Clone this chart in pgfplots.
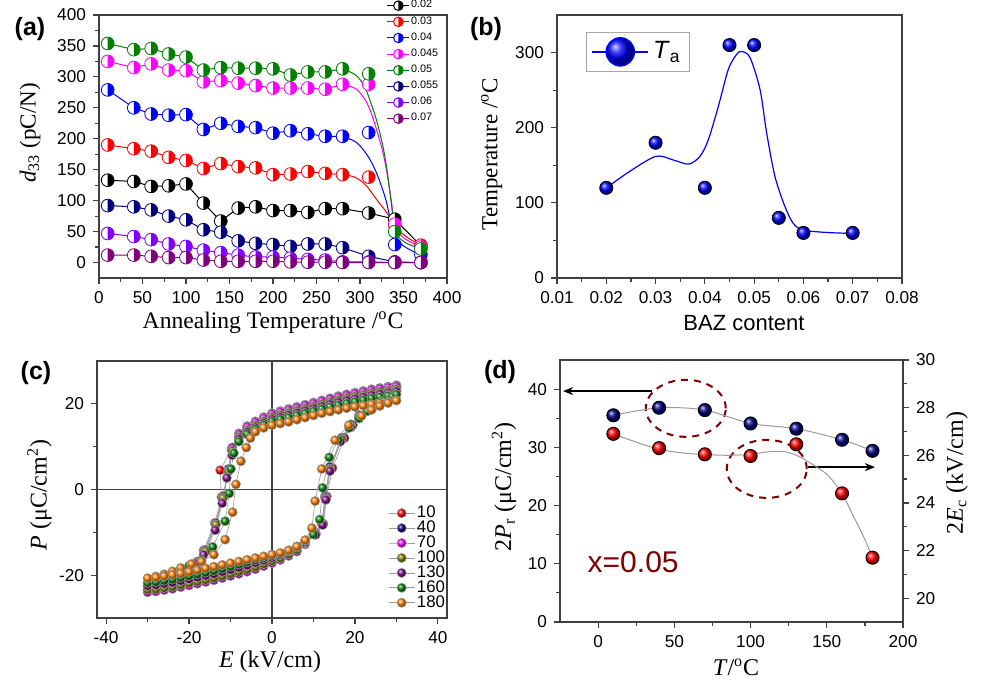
\documentclass[border=0pt]{standalone}
\usepackage{fontspec}
\setmainfont{Liberation Sans}
\newfontfamily\serif{Liberation Serif}
\usepackage{pgfplots}
\pgfplotsset{compat=1.18}
\usetikzlibrary{plotmarks,arrows.meta}
\definecolor{dred}{HTML}{800000}
\definecolor{axgray}{HTML}{404040}
\definecolor{cgreen}{HTML}{008000}
\definecolor{cnavy}{HTML}{000080}
\definecolor{cviolet}{HTML}{8000FF}
\definecolor{cpurple}{HTML}{800080}
\definecolor{colive}{HTML}{808000}
\definecolor{corange}{HTML}{FF8000}
\definecolor{cmag}{HTML}{FF00FF}
\definecolor{cred}{HTML}{FF0000}
\definecolor{cblue}{HTML}{0000FF}
\definecolor{cline}{HTML}{999999}

% circle with the left half white and the right half in the plot colour
\pgfdeclareplotmark{halfR}{%
  \pgfpathcircle{\pgfpointorigin}{\pgfplotmarksize}%
  \pgfusepathqfill
  \begin{pgfscope}%
  \pgfsetfillcolor{.}%
  \pgfpathmoveto{\pgfqpoint{0pt}{\pgfplotmarksize}}%
  \pgfpatharc{90}{-90}{\pgfplotmarksize}%
  \pgfpathclose
  \pgfusepathqfill
  \end{pgfscope}%
  \pgfpathcircle{\pgfpointorigin}{\pgfplotmarksize}%
  \pgfusepathqstroke
}

\pgfplotsset{
  panel/.style={
    scale only axis,
    anchor=south west,
    axis line style={axgray, line width=0.7pt},
    tick style={axgray, line width=0.6pt},
    tick align=outside,
    major tick length=3pt,
    minor tick length=1.8pt,
    xtick pos=bottom, ytick pos=left,
    tick label style={font=\fontsize{8.6}{10}\selectfont},
    /pgf/number format/assume math mode=true,
  },
  hc/.style={color=#1, line width=0.5pt, mark=halfR, mark size=3.2pt,
    mark options={solid, draw=#1, fill=white}},
  hs/.style={color=#1, line width=0.5pt, forget plot},
  hl/.style={color=#1, line width=0.5pt, smooth, forget plot},
  hm/.style={color=#1, only marks, mark=halfR, mark size=3.2pt,
    mark options={solid, draw=#1, fill=white}, forget plot},
  loop/.style={cline, line width=0.3pt, mark=ball, mark size=2.3pt,
    mark options={ball color=#1}},
}

\begin{document}
\begin{tikzpicture}
\useasboundingbox (0pt,0pt) rectangle (492pt,340pt);

% ---------------- (a) ----------------
\begin{axis}[panel, at={(49.5pt,201pt)}, width=174pt, height=131.5pt,
  xmin=0, xmax=400, ymin=-25, ymax=400,
  xtick={0,50,...,400}, ytick={0,50,...,400},
  minor x tick num=1, minor y tick num=1,
  legend style={at={(0.978,1.06)}, anchor=north east, draw=none, fill=none,
    inner sep=0pt, outer sep=0pt,
    font=\fontsize{5.4}{6}\selectfont, row sep=1.6pt,
    nodes={inner sep=0.6pt}},
  legend cell align=left,
  legend image code/.code={\draw[mark repeat=2,mark phase=2] plot coordinates {(0pt,0pt) (5.5pt,0pt) (11pt,0pt)};},
]
% 0.02
\addplot[hs=black] coordinates {(10,133)(40,131)(60,123)(80,124)(100,127)(120,96)(140,67)(160,88)(180,90)(200,84)(220,84)(240,81)(260,87)(280,87)(310,80)(340,70)(370,27)};
\addplot[hm=black] coordinates {(10,133)(40,131)(60,123)(80,124)(100,127)(120,96)(140,67)(160,88)(180,90)(200,84)(220,84)(240,81)(260,87)(280,87)(310,80)(340,70)(370,27)};
% 0.03
\addplot[hs=cred] coordinates {(10,190)(40,184)(60,180)(80,170)(100,165)(120,152)(140,160)(160,155)(180,153)(200,142)(220,143)(240,147)(260,144)(280,142)};
\addplot[hl=cred] coordinates {(280,142)(292,139)(300,133)(308,123)(319,102)(331,80)(340,58)(355,40)(370,28)};
\addplot[hm=cred] coordinates {(10,190)(40,184)(60,180)(80,170)(100,165)(120,152)(140,160)(160,155)(180,153)(200,142)(220,143)(240,147)(260,144)(280,142)(310,138)(340,60)(370,28)};
% 0.04
\addplot[hs=cblue] coordinates {(10,279)(40,250)(60,240)(80,238)(100,239)(120,215)(140,225)(160,220)(180,218)(200,209)(220,213)(240,208)(260,204)(280,204)};
\addplot[hl=cblue] coordinates {(280,204)(295,195)(305,180)(312,165)(318,148)(323,130)(330,100)(336,64)(346,32)(361,18)(370,13)};
\addplot[hm=cblue] coordinates {(10,279)(40,250)(60,240)(80,238)(100,239)(120,215)(140,225)(160,220)(180,218)(200,209)(220,213)(240,208)(260,204)(280,204)(310,210)(340,29)(370,13)};
% 0.045
\addplot[hs=cmag] coordinates {(10,325)(40,315)(60,321)(80,311)(100,310)(120,292)(140,294)(160,290)(180,286)(200,282)(220,282)(240,282)(260,280)(280,288)};
\addplot[hl=cmag] coordinates {(280,288)(295,281)(305,265)(312,245)(319,215)(326,180)(331,145)(336,100)(340,62)(350,40)(370,25)};
\addplot[hm=cmag] coordinates {(10,325)(40,315)(60,321)(80,311)(100,310)(120,292)(140,294)(160,290)(180,286)(200,282)(220,282)(240,282)(260,280)(280,288)(310,288)(340,62)(370,25)};
% 0.05
\addplot[hs=cgreen] coordinates {(10,354)(40,344)(60,346)(80,337)(100,332)(120,311)(140,315)(160,314)(180,314)(200,313)(220,303)(240,308)(260,308)(280,313)};
\addplot[hl=cgreen] coordinates {(280,313)(295,303)(305,285)(312,260)(319,230)(326,190)(331,150)(336,95)(340,52)(345,40)(355,30)(370,22)};
\addplot[hm=cgreen] coordinates {(10,354)(40,344)(60,346)(80,337)(100,332)(120,311)(140,315)(160,314)(180,314)(200,313)(220,303)(240,308)(260,308)(280,313)(310,305)(340,50)(370,22)};
% 0.055
\addplot[hs=cnavy] coordinates {(10,92)(40,90)(60,85)(80,75)(100,69)(120,53)(140,49)(160,35)(180,31)(200,29)(220,26)(240,30)(260,30)(280,24)(310,10)(340,1)(370,0)};
\addplot[hm=cnavy] coordinates {(10,92)(40,90)(60,85)(80,75)(100,69)(120,53)(140,49)(160,35)(180,31)(200,29)(220,26)(240,30)(260,30)(280,24)(310,10)(340,1)(370,0)};
% 0.06
\addplot[hs=cviolet] coordinates {(10,47)(40,42)(60,37)(80,30)(100,26)(120,20)(140,16)(160,12)(180,9)(200,9)(220,7)(240,5)(260,4)(280,1)(310,1)(340,0)(370,0)};
\addplot[hm=cviolet] coordinates {(10,47)(40,42)(60,37)(80,30)(100,26)(120,20)(140,16)(160,12)(180,9)(200,9)(220,7)(240,5)(260,4)(280,1)(310,1)(340,0)(370,0)};
% 0.07
\addplot[hs=cpurple] coordinates {(10,12)(40,12)(60,10)(80,8)(100,8)(120,4)(140,2)(160,2)(180,2)(200,2)(220,1)(240,0.5)(260,0.5)(280,0)(310,0)(340,0)(370,0)};
\addplot[hm=cpurple] coordinates {(10,12)(40,12)(60,10)(80,8)(100,8)(120,4)(140,2)(160,2)(180,2)(200,2)(220,1)(240,0.5)(260,0.5)(280,0)(310,0)(340,0)(370,0)};
\addlegendimage{hc=black, mark size=2.4pt}\addlegendentry{0.02}
\addlegendimage{hc=cred, mark size=2.4pt}\addlegendentry{0.03}
\addlegendimage{hc=cblue, mark size=2.4pt}\addlegendentry{0.04}
\addlegendimage{hc=cmag, mark size=2.4pt}\addlegendentry{0.045}
\addlegendimage{hc=cgreen, mark size=2.4pt}\addlegendentry{0.05}
\addlegendimage{hc=cnavy, mark size=2.4pt}\addlegendentry{0.055}
\addlegendimage{hc=cviolet, mark size=2.4pt}\addlegendentry{0.06}
\addlegendimage{hc=cpurple, mark size=2.4pt}\addlegendentry{0.07}
\end{axis}

% ---------------- (b) ----------------
\begin{axis}[panel, at={(278.5pt,201pt)}, width=172.5pt, height=131.5pt,
  xmin=0.01, xmax=0.08, ymin=0, ymax=350,
  xtick={0.01,0.02,0.03,0.04,0.05,0.06,0.07,0.08}, ytick={0,100,200,300},
  minor x tick num=1, minor y tick num=1,
  scaled x ticks=false,
  x tick label style={/pgf/number format/fixed, /pgf/number format/fixed zerofill, /pgf/number format/precision=2},
  legend style={at={(0.084,0.937)}, anchor=north west, draw=gray!70, line width=0.5pt,
    font=\fontsize{12.5}{14}\selectfont, inner sep=2.5pt},
]
\addplot[cblue, line width=0.6pt, smooth, forget plot] coordinates {(0.02,119.5)(0.0242,139.5)(0.03,161.8)(0.0336,157)(0.0367,151.6)(0.039,161.8)(0.0407,184)(0.04275,228.7)(0.04477,277.8)(0.04646,297.8)(0.04748,301.4)(0.04916,293.4)(0.05119,251)(0.05254,193)(0.05423,135)(0.05625,95)(0.05794,72.7)(0.05997,63.8)(0.06469,60.6)(0.07,59.3)};
\addplot[only marks, mark=ball, mark size=3.3pt, mark options={ball color=cblue}, forget plot] coordinates {(0.02,120)(0.03,180)(0.04,120)(0.045,310)(0.05,310)(0.055,80)(0.06,60)(0.07,60)};
\addlegendimage{cblue, line width=0.8pt, legend image code/.code={\draw (0pt,0pt)--(28pt,0pt); \shade[ball color=cblue] (14pt,0pt) circle (7pt);}}
\addlegendentry{\textit{T}\textsubscript{a}}
\end{axis}

% ---------------- (c) ----------------
\begin{axis}[panel, at={(48.5pt,31pt)}, width=175pt, height=128.5pt,
  xmin=-42.2, xmax=42.2, ymin=-30, ymax=30,
  xtick={-40,-20,0,20,40}, ytick={-20,0,20},
  minor x tick num=1, minor y tick num=1,
  legend style={at={(1.0,0.023)}, anchor=south east, draw=none, fill=none,
    inner sep=0pt, outer sep=0pt,
    font=\fontsize{8.4}{9}\selectfont, row sep=-1.9pt, nodes={inner sep=1pt}},
  legend cell align=left,
  legend image code/.code={\draw[mark repeat=2,mark phase=2] plot coordinates {(0pt,0pt) (6.5pt,0pt) (13pt,0pt)};},
]
\draw[axgray, line width=0.7pt] (axis cs:0,-30) -- (axis cs:0,30);
\draw[axgray, line width=0.7pt] (axis cs:-42.2,0) -- (axis cs:42.2,0);
\addplot[loop=cred] coordinates {(30,23.9)(28,23.6)(26,23.3)(24,23.0)(22,22.6)(20,22.2)(18,21.8)(16,21.4)(14,20.9)(12,20.4)(10,19.9)(8,19.4)(6,18.9)(4,18.4)(2,17.9)(0,17.4)(-2,16.5)(-4,15.5)(-6,14.4)(-8,12.7)(-9.8,9.3)(-12.5,4.5)(-12.2,-1.8)(-13.8,-7.8)(-16.5,-14.2)(-18.2,-17.0)(-20,-18.5)(-22,-19.8)(-24,-21.0)(-26,-22.0)(-28,-22.9)(-30,-23.6)(-28,-23.3)(-26,-23.0)(-24,-22.7)(-22,-22.3)(-20,-21.9)(-18,-21.5)(-16,-21.1)(-14,-20.7)(-12,-20.2)(-10,-19.7)(-8,-19.2)(-6,-18.7)(-4,-18.1)(-2,-17.5)(0,-16.9)(2,-16.4)(4,-15.4)(6,-14.3)(8,-12.6)(10.6,-10.3)(12.4,-8.0)(13.2,-1.6)(14.6,5.0)(17.5,12.0)(19.5,15.0)(21.3,17.2)(23,19.0)(25,20.6)(27,22.0)(29,23.2)(30,23.9)};
\addlegendentry{10}
\addplot[loop=cnavy] coordinates {(30,24.3)(28,24.0)(26,23.7)(24,23.4)(22,23.0)(20,22.6)(18,22.2)(16,21.8)(14,21.3)(12,20.8)(10,20.3)(8,19.8)(6,19.3)(4,18.8)(2,18.3)(0,17.8)(-2,16.9)(-4,15.9)(-6,14.8)(-8,13.1)(-9.6,9.8)(-10.5,4.8)(-11.8,-1.5)(-13.6,-7.8)(-16.2,-14.1)(-18,-16.8)(-20,-18.3)(-22,-19.6)(-24,-20.8)(-26,-21.8)(-28,-22.6)(-30,-23.2)(-28,-22.9)(-26,-22.6)(-24,-22.3)(-22,-21.9)(-20,-21.5)(-18,-21.1)(-16,-20.7)(-14,-20.3)(-12,-19.8)(-10,-19.3)(-8,-18.8)(-6,-18.3)(-4,-17.7)(-2,-17.0)(0,-16.4)(2,-15.7)(4,-14.8)(6,-13.8)(8,-12.2)(10.3,-10.1)(12,-7.8)(12.8,-1.5)(13.9,5.3)(16.8,12.1)(19,15.2)(21,17.4)(23,19.2)(25,20.9)(27,22.3)(29,23.6)(30,24.3)};
\addlegendentry{40}
\addplot[loop=cmag] coordinates {(30,24.1)(28,23.8)(26,23.5)(24,23.2)(22,22.8)(20,22.4)(18,22.0)(16,21.6)(14,21.1)(12,20.6)(10,20.1)(8,19.6)(6,19.1)(4,18.6)(2,18.1)(0,17.6)(-2,16.7)(-4,15.7)(-6,14.6)(-8,12.9)(-9.7,9.5)(-10.6,4.3)(-11.9,-1.8)(-13.7,-8.1)(-16.3,-14.4)(-18,-17.1)(-20,-18.7)(-22,-20.0)(-24,-21.2)(-26,-22.3)(-28,-23.2)(-30,-24.0)(-28,-23.8)(-26,-23.5)(-24,-23.2)(-22,-22.8)(-20,-22.4)(-18,-22.0)(-16,-21.6)(-14,-21.2)(-12,-20.7)(-10,-20.2)(-8,-19.7)(-6,-19.2)(-4,-18.6)(-2,-17.9)(0,-17.2)(2,-16.4)(4,-15.5)(6,-14.5)(8,-12.8)(10.4,-10.4)(12.1,-8.1)(12.9,-1.8)(14,4.9)(16.9,11.8)(19,14.9)(21,17.1)(23,18.9)(25,20.6)(27,22.0)(29,23.3)(30,24.1)};
\addlegendentry{70}
\addplot[loop=colive] coordinates {(30,23.4)(28,23.1)(26,22.8)(24,22.5)(22,22.1)(20,21.7)(18,21.3)(16,20.9)(14,20.4)(12,19.9)(10,19.4)(8,18.9)(6,18.4)(4,17.9)(2,17.4)(0,16.9)(-2,16.0)(-4,15.0)(-6,13.9)(-8,12.3)(-9.6,9.0)(-10.5,4.2)(-11.8,-2.0)(-13.5,-8.2)(-16,-14.4)(-18,-17.0)(-20,-18.3)(-22,-19.5)(-24,-20.6)(-26,-21.6)(-28,-22.5)(-30,-23.4)(-28,-23.3)(-26,-23.0)(-24,-22.7)(-22,-22.3)(-20,-21.9)(-18,-21.5)(-16,-21.1)(-14,-20.7)(-12,-20.2)(-10,-19.7)(-8,-19.2)(-6,-18.7)(-4,-18.1)(-2,-17.4)(0,-16.7)(2,-16.0)(4,-15.1)(6,-14.1)(8,-12.5)(10.3,-10.3)(12,-8.0)(12.8,-2.0)(13.9,4.8)(16.8,11.7)(19,14.7)(21,16.9)(23,18.6)(25,20.2)(27,21.6)(29,22.8)(30,23.4)};
\addlegendentry{100}
\addplot[loop=cpurple] coordinates {(30,22.9)(28,22.6)(26,22.3)(24,22.0)(22,21.6)(20,21.2)(18,20.8)(16,20.4)(14,19.9)(12,19.4)(10,18.9)(8,18.4)(6,17.9)(4,17.4)(2,16.9)(0,16.4)(-2,15.5)(-4,14.5)(-6,13.4)(-8,11.8)(-9.6,8.0)(-10.9,2.7)(-12.0,-3.2)(-13.7,-9.5)(-16.5,-15.2)(-18.5,-17.3)(-20,-18.0)(-22,-19.1)(-24,-20.1)(-26,-21.0)(-28,-21.8)(-30,-22.5)(-28,-22.3)(-26,-22.0)(-24,-21.7)(-22,-21.3)(-20,-20.9)(-18,-20.5)(-16,-20.1)(-14,-19.7)(-12,-19.2)(-10,-18.7)(-8,-18.2)(-6,-17.7)(-4,-17.1)(-2,-16.5)(0,-15.9)(2,-15.3)(4,-14.5)(6,-13.5)(8,-12.3)(10.5,-10.6)(12.2,-8.3)(13.0,-2.4)(14.0,4.3)(16.5,11.2)(19,14.5)(21,16.6)(23,18.3)(25,19.8)(27,21.1)(29,22.3)(30,22.9)};
\addlegendentry{130}
\addplot[loop=cgreen] coordinates {(30,22.2)(28,21.9)(26,21.6)(24,21.3)(22,20.9)(20,20.5)(18,20.1)(16,19.7)(14,19.3)(12,18.8)(10,18.3)(8,17.8)(6,17.3)(4,16.8)(2,16.4)(0,15.9)(-2,15.1)(-4,14.1)(-6,12.9)(-8,11.2)(-9.2,8.5)(-9.9,4.8)(-10.3,-0.9)(-11.3,-7.4)(-14.3,-13.4)(-17,-16.5)(-20,-17.8)(-22,-18.8)(-24,-19.7)(-26,-20.5)(-28,-21.2)(-30,-21.8)(-28,-21.6)(-26,-21.3)(-24,-21.0)(-22,-20.6)(-20,-20.2)(-18,-19.8)(-16,-19.4)(-14,-19.0)(-12,-18.5)(-10,-18.0)(-8,-17.5)(-6,-17.0)(-4,-16.5)(-2,-16.0)(0,-15.5)(2,-15.0)(4,-14.3)(6,-13.3)(8,-12.0)(10,-10.5)(11.5,-7.0)(12.2,0.4)(13.8,7.5)(16,11.5)(18.6,14.4)(21,16.6)(23,18.3)(25,19.6)(27,20.8)(29,21.7)(30,22.2)};
\addlegendentry{160}
\addplot[loop=corange] coordinates {(30,20.8)(28,20.5)(26,20.2)(24,19.9)(22,19.6)(20,19.3)(18,19.0)(16,18.6)(14,18.2)(12,17.8)(10,17.3)(8,16.8)(6,16.3)(4,15.8)(2,15.4)(0,15.0)(-2,14.4)(-4,13.5)(-5.2,12.0)(-6.2,9.8)(-7.5,6.6)(-8.7,1.2)(-9.5,-5.3)(-11.3,-11.7)(-14,-15.2)(-17,-16.8)(-19.4,-17.4)(-22,-18.3)(-24,-19.1)(-26,-19.8)(-28,-20.3)(-30,-20.7)(-28,-20.5)(-26,-20.2)(-24,-19.9)(-22,-19.6)(-20,-19.2)(-18,-18.8)(-16,-18.4)(-14,-18.0)(-12,-17.6)(-10,-17.2)(-8,-16.8)(-6,-16.4)(-4,-16.0)(-2,-15.6)(0,-15.2)(2,-14.8)(4,-14.2)(6,-13.3)(8,-11.8)(9.6,-9.0)(10.4,-2.7)(12,4.8)(15.2,11.5)(18.5,15.0)(21.6,17.2)(24,18.6)(26,19.5)(28,20.2)(30,20.8)};
\addlegendentry{180}
\end{axis}

% ---------------- (d) ----------------
\begin{axis}[panel, at={(280pt,29pt)}, width=171.5pt, height=131pt,
  xmin=-25, xmax=200, ymin=0, ymax=45,
  xtick={0,50,100,150,200}, ytick={0,10,20,30,40},
  minor x tick num=1, minor y tick num=1,
]
\draw[dred, line width=1pt, dash pattern=on 3.5pt off 3pt] (axis cs:57.5,36.7) ellipse [x radius=20pt, y radius=14.25pt];
\draw[dred, line width=1pt, dash pattern=on 3.5pt off 3pt] (axis cs:110.6,26.3) ellipse [x radius=20pt, y radius=14.5pt];
\draw[black, line width=0.8pt, -{Stealth[length=5pt,width=4pt]}] (axis cs:35.2,39.66) -- (axis cs:-23,39.66);
\draw[black, line width=0.8pt, -{Stealth[length=5pt,width=4pt]}] (axis cs:137.7,26.6) -- (axis cs:181.6,26.6);
\node[dred, font=\fontsize{15}{17}\selectfont] at (axis cs:23,10.3) {x=0.05};
\addplot[cline, line width=0.5pt, smooth] coordinates {(10,35.5)(40,36.8)(70,36.4)(100,34.1)(130,33.2)(160,31.3)(180,29.4)};
\addplot[only marks, mark=ball, mark size=3.3pt, mark options={ball color=cnavy}] coordinates {(10,35.5)(40,36.8)(70,36.4)(100,34.1)(130,33.2)(160,31.3)(180,29.4)};
\end{axis}
\begin{axis}[panel, at={(280pt,29pt)}, width=171.5pt, height=131pt,
  xmin=-25, xmax=200, ymin=19, ymax=30,
  hide x axis, axis y line*=right, ytick pos=right,
  ytick={20,22,24,26,28,30}, minor y tick num=1,
]
\addplot[cline, line width=0.5pt, smooth] coordinates {(10,26.9)(25,26.55)(40,26.25)(55,26.1)(70,26.03)(85,26.0)(100,26.04)(112,26.15)(122,26.15)(130,26.0)(137,25.76)(150,25.2)(160,24.4)(167,23.5)(174,22.6)(180,21.7)};
\addplot[only marks, mark=ball, mark size=3.3pt, mark options={ball color=cred}] coordinates {(10,26.9)(40,26.3)(70,26.04)(100,25.97)(130,26.46)(160,24.4)(180,21.7)};
\end{axis}

% ---------------- labels ----------------
\begin{scope}[every node/.style={inner sep=0pt}]
\node[font=\bfseries\fontsize{12.5}{14}\selectfont] at (15pt,325.5pt) {(a)};
\node[font=\bfseries\fontsize{12.5}{14}\selectfont] at (243pt,325.5pt) {(b)};
\node[font=\bfseries\fontsize{12.5}{14}\selectfont] at (18pt,153.5pt) {(c)};
\node[font=\bfseries\fontsize{12.5}{14}\selectfont] at (250pt,154pt) {(d)};
\node[rotate=90, font=\serif\fontsize{11.5}{13}\selectfont] at (15pt,273.5pt) {\textit{d}\textsubscript{33} (pC/N)};
\node[font=\serif\fontsize{11.8}{13}\selectfont] at (136.5pt,178.5pt) {Annealing Temperature /\textsuperscript{o}C};
\node[rotate=90, font=\serif\fontsize{11.5}{13}\selectfont] at (245.8pt,263pt) {Temperature /\textsuperscript{o}C};
\node[font=\fontsize{11}{13}\selectfont] at (372pt,178.3pt) {BAZ content};
\node[rotate=90, font=\serif\fontsize{12}{14}\selectfont] at (19.8pt,92.5pt) {\textit{P} (μC/cm\textsuperscript{2})};
\node[font=\serif\fontsize{12}{14}\selectfont] at (135pt,9pt) {\textit{E} (kV/cm)};
\node[rotate=90, font=\serif\fontsize{12}{14}\selectfont] at (252pt,96.5pt) {2\textit{P}\textsubscript{r} (μC/cm\textsuperscript{2})};
\node[rotate=90, font=\serif\fontsize{12}{14}\selectfont] at (478.5pt,103.5pt) {2\textit{E}\textsubscript{c} (kV/cm)};
\node[font=\serif\fontsize{12}{14}\selectfont] at (368pt,6.5pt) {\textit{T}/\textsuperscript{o}C};
\end{scope}
\end{tikzpicture}
\end{document}
